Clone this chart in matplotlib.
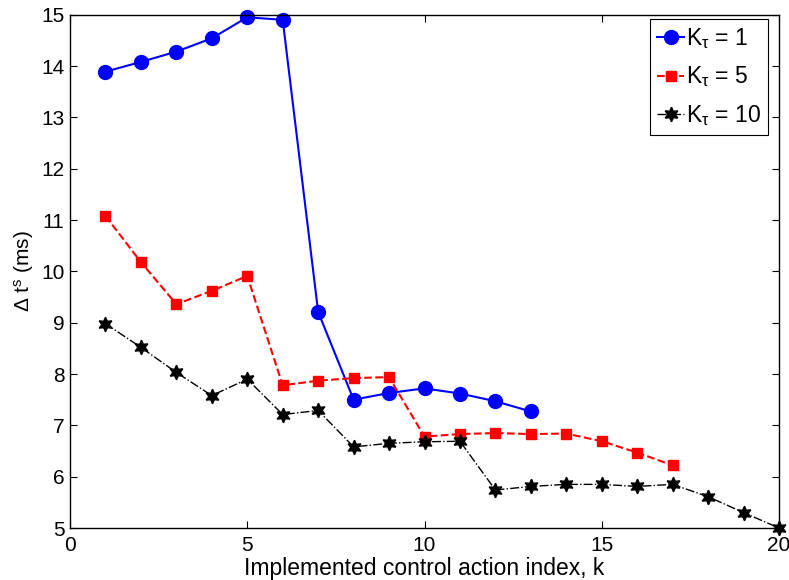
import matplotlib
matplotlib.use("Agg")
import matplotlib.pyplot as plt

plt.rcParams['font.family'] = ['Liberation Sans', 'DejaVu Sans']
plt.rcParams['mathtext.default'] = 'regular'

k1 = list(range(1, 14))
dt1 = [13.89, 14.08, 14.28, 14.54, 14.95, 14.90, 9.21, 7.50, 7.63, 7.72, 7.62, 7.47, 7.27]
k5 = list(range(1, 18))
dt5 = [11.08, 10.18, 9.36, 9.62, 9.91, 7.78, 7.87, 7.92, 7.94, 6.78, 6.83, 6.85, 6.83, 6.84, 6.69, 6.47, 6.22]
k10 = list(range(1, 21))
dt10 = [8.98, 8.52, 8.03, 7.58, 7.90, 7.21, 7.29, 6.58, 6.65, 6.68, 6.69, 5.74, 5.81, 5.85, 5.85, 5.81, 5.85, 5.61, 5.30, 5.00]

labels = ['K$_{\\tau}$ = 1', 'K$_{\\tau}$ = 5', 'K$_{\\tau}$ = 10']
xticks = [0, 5, 10, 15, 20]
yticks = [5, 6, 7, 8, 9, 10, 11, 12, 13, 14, 15]

fig = plt.figure(figsize=(7.89, 5.80), dpi=100)
ax = fig.add_axes([70 / 789, 1 - 528 / 580, 709 / 789, 513.3 / 580])

ax.plot(k1, dt1, '-', color='blue', marker='o', markersize=10, lw=1.5, label=labels[0], clip_on=False)
ax.plot(k5, dt5, '--', color='red', marker='s', markersize=7, lw=1.5, label=labels[1], clip_on=False)
ax.plot(k10, dt10, '-.', color='black', marker=(6, 1, 0), markersize=10.5, lw=1.0, label=labels[2], clip_on=False)

ax.set_xlim(0, 20)
ax.set_ylim(5, 15)
ax.set_xticks(xticks)
ax.set_yticks(yticks)
ax.tick_params(direction='in', top=True, right=True, labelsize=15, length=5, width=0.8)
ax.tick_params(axis='x', pad=6)
ax.tick_params(axis='y', pad=4)
for s in ax.spines.values():
    s.set_linewidth(1.0)

ax.set_xlabel('Implemented control action index, k', fontsize=16.5, labelpad=1)
ax.set_ylabel('\u0394 t$^{s}$ (ms)', fontsize=15, labelpad=4)

leg = ax.legend(loc='upper right', bbox_to_anchor=(768 / 789, 1 - 19 / 580),
                bbox_transform=fig.transFigure,
                fontsize=16.5, fancybox=False, framealpha=1,
                edgecolor='black', handlelength=1.15, handletextpad=0.1,
                borderaxespad=0.0, borderpad=0.3, labelspacing=0.6)
leg.get_frame().set_linewidth(0.8)

fig.savefig('out.png', dpi=100)
